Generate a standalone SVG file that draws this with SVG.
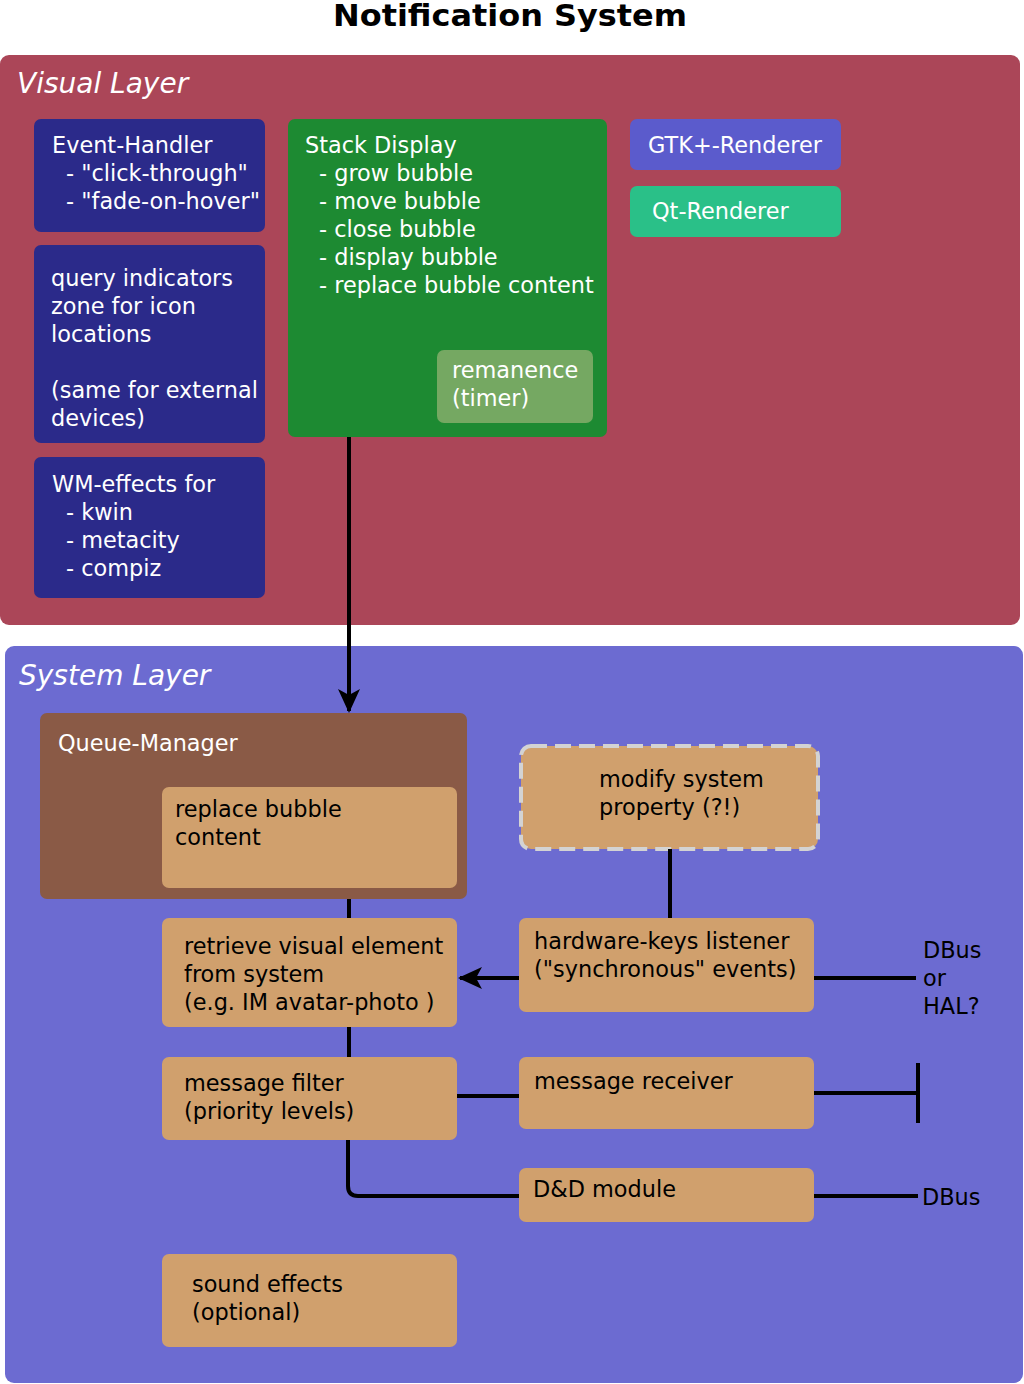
<svg xmlns="http://www.w3.org/2000/svg" width="1024" height="1384" viewBox="0 0 1024 1384">
<style>
text{font-family:"DejaVu Sans","Noto Sans",sans-serif;font-size:22.4px}
.w{fill:#ffffff}
.k{fill:#000000}
.layer{font-style:italic;font-size:28px;fill:#ffffff}
.title{font-weight:bold;font-size:31px;fill:#000}
.navy{fill:#2b2a8a}
.tan{fill:#d0a06d}
.ln{stroke:#000;stroke-width:4;fill:none}
</style>
<defs>
<marker id="ah" viewBox="0 0 24 22" refX="22" refY="11" markerWidth="24" markerHeight="22" markerUnits="userSpaceOnUse" orient="auto">
<path d="M0,0 L24,11 L0,22 L6,11 Z" fill="#000"/>
</marker>
</defs>
<text class="title" x="510" y="26" text-anchor="middle" textLength="354" lengthAdjust="spacingAndGlyphs">Notification System</text>

<g id="visual-layer">
<rect x="0" y="55" width="1020" height="570" rx="9" fill="#ab4658"/>
<text class="layer" x="17" y="93">Visual Layer</text>
</g>
<g id="event-handler">
<rect class="navy" x="34" y="119" width="231" height="113" rx="7"/>
<text class="w" x="52" y="153">Event-Handler</text>
<text class="w" x="66" y="181">- "click-through"</text>
<text class="w" x="66" y="209">- "fade-on-hover"</text>
</g>
<g id="query-indicators">
<rect class="navy" x="34" y="245" width="231" height="198" rx="7"/>
<text class="w" x="51" y="286">query indicators</text>
<text class="w" x="51" y="314">zone for icon</text>
<text class="w" x="51" y="342">locations</text>
<text class="w" x="51" y="398">(same for external</text>
<text class="w" x="51" y="426">devices)</text>
</g>
<g id="wm-effects">
<rect class="navy" x="34" y="457" width="231" height="141" rx="7"/>
<text class="w" x="52" y="492">WM-effects for</text>
<text class="w" x="66" y="520">- kwin</text>
<text class="w" x="66" y="548">- metacity</text>
<text class="w" x="66" y="576">- compiz</text>
</g>
<g id="stack-display">
<rect x="288" y="119" width="319" height="318" rx="7" fill="#1d8a32"/>
<text class="w" x="305" y="153">Stack Display</text>
<text class="w" x="319" y="181">- grow bubble</text>
<text class="w" x="319" y="209">- move bubble</text>
<text class="w" x="319" y="237">- close bubble</text>
<text class="w" x="319" y="265">- display bubble</text>
<text class="w" x="319" y="293">- replace bubble content</text>
</g>
<g id="remanence">
<rect x="437" y="350" width="156" height="73" rx="7" fill="#75a862"/>
<text class="w" x="452" y="378">remanence</text>
<text class="w" x="452" y="406">(timer)</text>
</g>
<g id="gtk-renderer">
<rect x="630" y="119" width="211" height="51" rx="7" fill="#5b5bcc"/>
<text class="w" x="648" y="153">GTK+-Renderer</text>
</g>
<g id="qt-renderer">
<rect x="630" y="186" width="211" height="51" rx="7" fill="#2ac088"/>
<text class="w" x="652" y="219">Qt-Renderer</text>
</g>

<g id="system-layer">
<rect x="5" y="646" width="1018" height="737" rx="9" fill="#6c6bd1"/>
<text class="layer" x="19" y="685">System Layer</text>
</g>
<g id="queue-manager">
<rect x="40" y="713" width="427" height="186" rx="7" fill="#8a5a46"/>
<text class="w" x="58" y="751">Queue-Manager</text>
</g>
<g id="replace-bubble-content">
<rect class="tan" x="162" y="787" width="295" height="101" rx="7"/>
<text class="k" x="175" y="817">replace bubble</text>
<text class="k" x="175" y="845">content</text>
</g>
<g id="modify-system-property">
<rect class="tan" x="521" y="746" width="297" height="103" rx="10" stroke="#d3d3d3" stroke-width="4" stroke-dasharray="16,8"/>
<text class="k" x="599" y="787">modify system</text>
<text class="k" x="599" y="815">property (?!)</text>
</g>
<g id="retrieve-visual-element">
<rect class="tan" x="162" y="918" width="295" height="109" rx="7"/>
<text class="k" x="184" y="954">retrieve visual element</text>
<text class="k" x="184" y="982">from system</text>
<text class="k" x="184" y="1010">(e.g. IM avatar-photo )</text>
</g>
<g id="hardware-keys-listener">
<rect class="tan" x="519" y="918" width="295" height="94" rx="7"/>
<text class="k" x="534" y="949">hardware-keys listener</text>
<text class="k" x="534" y="977">("synchronous" events)</text>
</g>
<g id="message-filter">
<rect class="tan" x="162" y="1057" width="295" height="83" rx="7"/>
<text class="k" x="184" y="1091">message filter</text>
<text class="k" x="184" y="1119">(priority levels)</text>
</g>
<g id="message-receiver">
<rect class="tan" x="519" y="1057" width="295" height="72" rx="7"/>
<text class="k" x="534" y="1089">message receiver</text>
</g>
<g id="dnd-module">
<rect class="tan" x="519" y="1168" width="295" height="54" rx="7"/>
<text class="k" x="533" y="1197">D&amp;D module</text>
</g>
<g id="sound-effects">
<rect class="tan" x="162" y="1254" width="295" height="93" rx="7"/>
<text class="k" x="192" y="1292">sound effects</text>
<text class="k" x="192" y="1320">(optional)</text>
</g>
<g id="dbus-or-hal">
<text class="k" x="923" y="958">DBus</text>
<text class="k" x="923" y="986">or</text>
<text class="k" x="923" y="1014">HAL?</text>
</g>
<g id="dbus">
<text class="k" x="922" y="1205">DBus</text>
</g>

<g id="connectors">
<line class="ln" x1="349" y1="437" x2="349" y2="711" marker-end="url(#ah)"/>
<line class="ln" x1="670" y1="849" x2="670" y2="918"/>
<line class="ln" x1="519" y1="978" x2="460" y2="978" marker-end="url(#ah)"/>
<line class="ln" x1="814" y1="978" x2="916" y2="978"/>
<line class="ln" x1="349" y1="899" x2="349" y2="918"/>
<line class="ln" x1="349" y1="1027" x2="349" y2="1057"/>
<line class="ln" x1="457" y1="1096" x2="519" y2="1096"/>
<line class="ln" x1="814" y1="1093" x2="918" y2="1093"/>
<line class="ln" x1="918" y1="1063" x2="918" y2="1123"/>
<path class="ln" d="M348,1140 V1186 Q348,1196 358,1196 H519"/>
<line class="ln" x1="814" y1="1196" x2="918" y2="1196"/>
</g>
</svg>
